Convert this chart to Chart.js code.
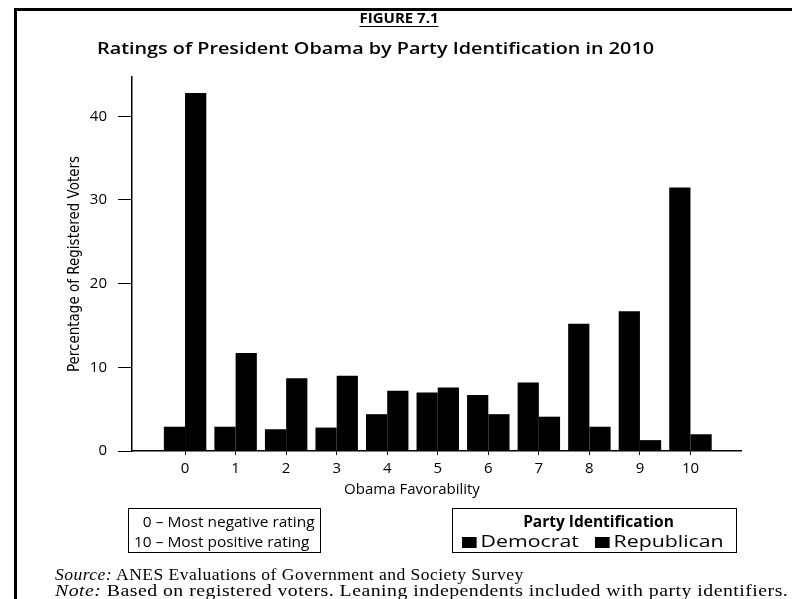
<!DOCTYPE html>
<html>
<head>
<meta charset="utf-8">
<script src="https://cdn.jsdelivr.net/npm/chart.js@4.4.1/dist/chart.umd.min.js"></script>
<style>
  body { margin: 0; background: #fff; }
  #wrap { position: relative; width: 792px; height: 599px; overflow: hidden; color: #000; font-family: "Open Sans", "DejaVu Sans", sans-serif; }
  #frame { position: absolute; left: 14px; top: 8px; right: -10px; bottom: -10px; border-left: 3px solid #000; border-top: 3px solid #000; }
  canvas { position: absolute; left: 0; top: 0; }
  .txt { position: absolute; white-space: nowrap; transform-origin: 0 50%; }
  #fig { left: 0; width: 798px; top: 7px; text-align: center; font-weight: 700; font-size: 15px; }
  #fig span { text-decoration: underline; text-underline-offset: 3px; }
  #ttl { left: 97px; top: 36px; font-weight: 600; font-size: 17px; transform: scaleX(1.165); }
  #xttl { left: 0; width: 824px; top: 478px; text-align: center; font-size: 15px; }
  .box { position: absolute; top: 508px; height: 45px; border: 1px solid #000; font-size: 15px; line-height: 20px; padding-top: 2px; box-sizing: border-box; }
  #box1 { left: 128px; width: 193px; }
  #box1 .n { display: inline-block; width: 22px; text-align: right; }
  #box1 div { transform: scaleX(1.03); transform-origin: 0 50%; }
  #box2 { left: 452px; width: 285px; }
  #box2 .l1 { text-align: center; font-weight: 700; font-size: 15.5px; padding-left: 8px; }
  #box2 .l2 { position: absolute; left: 9px; top: 22px; white-space: nowrap; font-size: 16px; transform: scaleX(1.33); transform-origin: 0 50%; }
  .sq { display: inline-block; width: 11px; height: 11px; background: #000; margin-right: 3px; vertical-align: -1px; }
  .note { left: 55px; font-family: "Liberation Serif", "DejaVu Serif", serif; font-size: 16px; letter-spacing: 0.4px; }
  #src { top: 566px; transform: scaleX(1.1); }
  #nt { top: 582px; transform: scaleX(1.235); }
</style>
</head>
<body>
<div id="wrap">
  <div id="frame"></div>
  <canvas id="chart" width="792" height="599"></canvas>
  <div class="txt" id="fig"><span>FIGURE 7.1</span></div>
  <div class="txt" id="ttl">Ratings of President Obama by Party Identification in 2010</div>
  <div class="txt" id="xttl">Obama Favorability</div>
  <div class="box" id="box1">
    <div><span class="n">0</span> – Most negative rating</div>
    <div><span class="n">10</span> – Most positive rating</div>
  </div>
  <div class="box" id="box2">
    <div class="l1">Party Identification</div>
    <div class="l2"><span class="sq"></span>Democrat <span class="sq" style="margin-left:8px"></span>Republican</div>
  </div>
  <div class="txt note" id="src"><i>Source:</i> ANES Evaluations of Government and Society Survey</div>
  <div class="txt note" id="nt"><i>Note:</i> Based on registered voters. Leaning independents included with party identifiers.</div>
</div>
<script>
const ratings = [0, 1, 2, 3, 4, 5, 6, 7, 8, 9, 10];
const democrat = [2.9, 2.9, 2.6, 2.8, 4.4, 7.0, 6.7, 8.2, 15.2, 16.7, 31.5];
const republican = [42.8, 11.7, 8.7, 9.0, 7.2, 7.6, 4.4, 4.1, 2.9, 1.3, 2.0];
const yTicks = [0, 10, 20, 30, 40];

const tickFont = { family: "'Open Sans', 'DejaVu Sans', sans-serif", size: 15 };

function points(values) {
  return ratings.map((r, i) => ({ x: r, y: values[i] }));
}

const config = {
  type: "bar",
  data: {
    datasets: [
      { label: "Democrat", data: points(democrat), backgroundColor: "#000", borderWidth: 0 },
      { label: "Republican", data: points(republican), backgroundColor: "#000", borderWidth: 0 },
    ],
  },
  options: {
    responsive: false,
    animation: false,
    categoryPercentage: 0.84,
    barPercentage: 1.0,
    layout: { padding: { left: 0, top: 77, right: 51, bottom: 118 } },
    plugins: { legend: { display: false }, tooltip: { enabled: false } },
    scales: {
      x: {
        type: "linear",
        offset: false,
        min: -1.05,
        max: 11,
        afterBuildTicks: (axis) => {
          axis.ticks = ratings.map((r) => ({ value: r }));
        },
        afterFit: (axis) => { axis.height = 30; },
        grid: { offset: false, drawOnChartArea: false, drawTicks: true, tickLength: 4, color: "#000", lineWidth: 1 },
        border: { color: "#000", width: 1.5 },
        ticks: { color: "#000", font: tickFont, padding: 5, maxRotation: 0 },
      },
      y: {
        min: 0,
        max: 44.7,
        afterBuildTicks: (axis) => {
          axis.ticks = yTicks.map((v) => ({ value: v }));
        },
        afterFit: (axis) => { axis.width = 132; },
        grid: { drawOnChartArea: false, drawTicks: true, tickLength: 14, color: "#000", lineWidth: 1 },
        border: { color: "#000", width: 1.5 },
        ticks: { color: "#000", font: tickFont, padding: 11 },
        title: {
          display: true,
          text: "Percentage of Registered Voters",
          color: "#000",
          font: { family: "'Liberation Sans Narrow', 'DejaVu Sans Condensed', sans-serif", size: 15 },
          padding: { top: 66, bottom: 0 },
        },
      },
    },
  },
};

new Chart(document.getElementById("chart"), config);
</script>
</body>
</html>
